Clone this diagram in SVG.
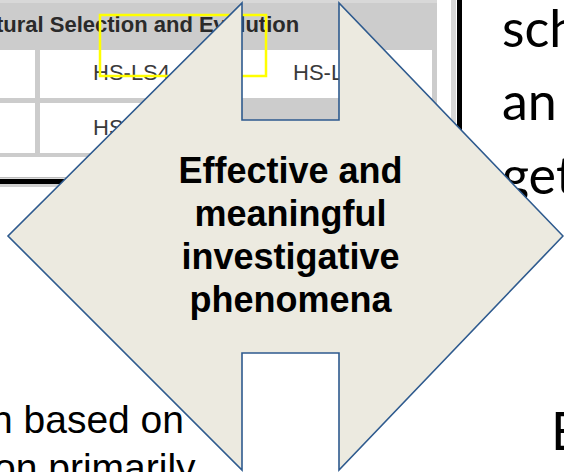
<svg xmlns="http://www.w3.org/2000/svg" width="564" height="472" viewBox="0 0 564 472">
  <style>
    .tbl { font-family: "Liberation Sans", Arial, sans-serif; fill: #2a2a2a; }
    .hdr { font-size: 22px; font-weight: bold; }
    .cell { font-size: 22px; fill: #3a3a3a; }
    .cal { font-family: Lato, "Open Sans", sans-serif; font-size: 52px; fill: #000; }
    .ari { font-family: "Liberation Sans", Arial, sans-serif; font-size: 39px; fill: #000; }
    .lbl { font-family: "Liberation Sans", Arial, sans-serif; font-size: 36px; font-weight: bold; fill: #000; text-anchor: middle; }
    .shape { fill: #eceae0; stroke: #2e5a8e; stroke-width: 1.6; stroke-linejoin: miter; }
  </style>
  <rect x="0" y="0" width="564" height="472" fill="#ffffff"/>

  <g id="background-table">
    <rect x="0" y="0" width="437" height="157" fill="#cccccc"/>
    <rect x="0" y="0" width="437" height="3" fill="#d8d8d8"/>
    <rect x="0" y="50" width="35" height="48" fill="#ffffff"/>
    <rect x="40" y="50" width="182" height="48" fill="#ffffff"/>
    <rect x="227" y="50" width="205" height="48" fill="#ffffff"/>
    <rect x="0" y="103" width="35" height="50" fill="#ffffff"/>
    <rect x="40" y="103" width="198" height="50" fill="#ffffff"/>
    <text class="tbl hdr" x="-4" y="32">tural Selection and Evolution</text>
    <text class="tbl cell" x="93" y="80">HS-LS4</text>
    <text class="tbl cell" x="293" y="80">HS-L</text>
    <text class="tbl cell" x="93" y="135">HS</text>
    <rect x="100" y="15" width="166" height="61" fill="none" stroke="#ffff00" stroke-width="2.5"/>
    <rect x="0" y="177" width="462" height="1.5" fill="#bdbdbd"/>
    <rect x="0" y="184" width="462" height="3" fill="#d0d0d0"/>
    <rect x="451" y="0" width="5" height="180" fill="#d6d6d6"/>
    <rect x="0" y="179" width="462" height="5" fill="#000000"/>
    <rect x="457" y="0" width="5" height="184" fill="#000000"/>
  </g>

  <g id="background-text">
    <text class="cal" x="502" y="47">sch</text>
    <text class="cal" x="502" y="120">an</text>
    <text class="cal" x="502" y="194">get</text>
    <text class="cal" x="551" y="450">E</text>
    <text class="ari" x="-9" y="433">n based on</text>
    <text class="ari" x="-6" y="481">on primarily</text>
  </g>

  <g id="connectors"></g>

  <g id="node-phenomena">
    <path class="shape" d="M242,3 L242,120 L339,120 L339,3 L563,236 L339,470 L339,353 L242,353 L242,470 L8,236 Z"/>
    <text class="lbl" x="290.5" y="183">Effective and</text>
    <text class="lbl" x="290.5" y="226">meaningful</text>
    <text class="lbl" x="290.5" y="269">investigative</text>
    <text class="lbl" x="290.5" y="312">phenomena</text>
  </g>
</svg>
